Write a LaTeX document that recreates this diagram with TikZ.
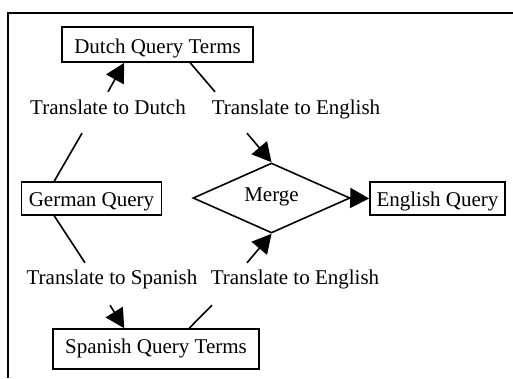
\documentclass[tikz,border=0pt]{standalone}
\usepackage{fontspec}
\setmainfont{Liberation Serif}
\usetikzlibrary{shapes.geometric,arrows.meta}
\begin{document}
\begin{tikzpicture}[x=1pt,y=-1pt,
  font=\fontsize{21}{25}\selectfont,
  box/.style={draw,line width=1.6pt,inner sep=0pt,text depth=0pt},
  lbl/.style={inner sep=0pt,text depth=0pt,text height=14pt},
  conn/.style={line width=1.6pt},
  arr/.style={conn,-{Triangle[length=19pt,width=20pt]}}]
\useasboundingbox (0,0) rectangle (513,378);
\draw[line width=1.5pt] (8,378) -- (8,13) -- (513,13);
% boxes
\node[box,minimum width=191pt,minimum height=35pt,text height=17pt] (dq) at (157.5,44.5) {Dutch Query Terms};
\node[box,minimum width=140pt,minimum height=33pt,text height=15pt] (gq) at (91.5,198.5) {German Query};
\node[box,minimum width=135pt,minimum height=33pt,text height=15pt] (eq) at (437.5,198.5) {English Query};
\node[box,minimum width=206pt,minimum height=40pt,text height=9pt] (sq) at (156,349) {Spanish Query Terms};
\node[box,diamond,minimum width=157pt,minimum height=70pt,text height=7pt] (mg) at (271.5,198) {Merge};
% labels
\node[lbl] (td) at (108,107) {Translate to Dutch};
\node[lbl] (te1) at (296,107) {Translate to English};
\node[lbl] (ts) at (112,277) {Translate to Spanish};
\node[lbl] (te2) at (295,277) {Translate to English};
% connectors
\draw[conn] ([xshift=33.5pt]gq.north west) -- ([shift={(-26,19)}]td.south);
\draw[arr] ([shift={(0,-8)}]td.north) -- ([xshift=63pt]dq.south west);
\draw[conn] ([xshift=129pt]dq.south west) -- ([shift={(-81,-8)}]te1.north);
\draw[arr] ([shift={(-49,19)}]te1.south) -- (mg.north);
\draw[conn] ([xshift=33.5pt]gq.south west) -- ([shift={(-27,-7)}]ts.north);
\draw[arr] ([shift={(-2,21)}]ts.south) -- ([xshift=72pt]sq.north west);
\draw[conn] ([xshift=137pt]sq.north west) -- ([shift={(-83,21)}]te2.south);
\draw[arr] ([shift={(-48,-7)}]te2.north) -- (mg.south);
\draw[arr] (mg.east) -- (eq.west);
\end{tikzpicture}
\end{document}
